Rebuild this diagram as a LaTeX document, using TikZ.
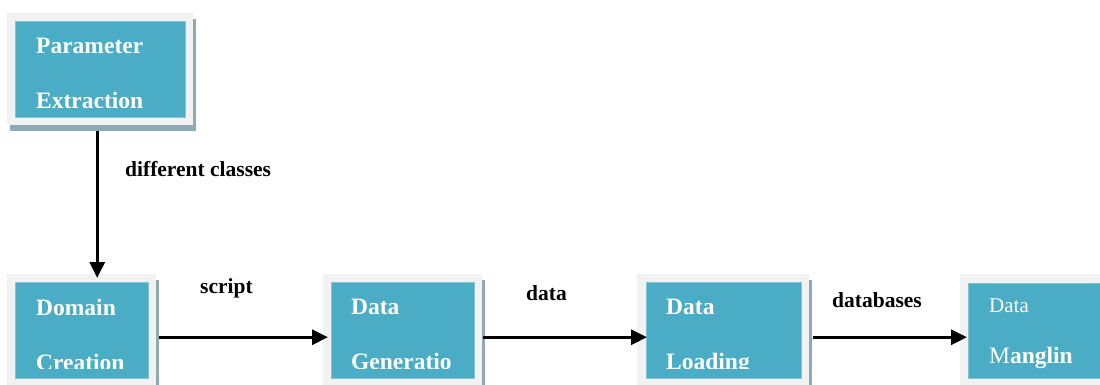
\documentclass[tikz,border=0pt]{standalone}
\usepackage{fontspec}
\setmainfont{Liberation Serif}
\usetikzlibrary{arrows.meta,shadows}
\definecolor{boxteal}{HTML}{4BACC6}
\definecolor{framegray}{HTML}{F2F2F2}
\definecolor{shadowblue}{HTML}{8FAAB5}
\begin{document}
\begin{tikzpicture}[x=1pt,y=-1pt,
  frame/.style={fill=framegray, draw=none, anchor=north west, inner sep=0pt,
    drop shadow={shadow xshift=3pt, shadow yshift=-6pt, fill=shadowblue, opacity=1}},
  panel/.style={fill=boxteal, draw=boxteal!70!white, line width=0.6pt, anchor=north west, inner sep=0pt},
  boxtext/.style={text=white, font=\fontsize{23.5}{23.5}\selectfont\bfseries, anchor=base west, inner sep=0pt},
  flowlabel/.style={text=black, font=\fontsize{21.5}{21.5}\selectfont\bfseries, anchor=base west, inner sep=0pt},
  arr/.style={line width=3pt, -{Triangle[length=16pt,width=15pt]}}]
\clip (0,0) rectangle (1100,385);

% Parameter Extraction
\node[frame, minimum width=186pt, minimum height=112pt] (pe) at (7,13) {};
\node[panel, minimum width=170pt, minimum height=96pt] (pe-in) at (15,21) {};
\begin{scope}
  \clip (pe-in.north west) rectangle ([yshift=10pt]pe-in.south east);
  \node[boxtext] (pe-t1) at (36,54) {Parameter};
  \node[boxtext] (pe-t2) at (36,109) {Extraction};
\end{scope}

% Domain Creation
\node[frame, minimum width=149pt, minimum height=126pt] (dc) at (7,274) {};
\node[panel, minimum width=133pt, minimum height=96pt] (dc-in) at (15,282) {};
\begin{scope}
  \clip (dc-in.north west) rectangle ([yshift=10pt]dc-in.south east);
  \node[boxtext] (dc-t1) at (36,315) {Domain};
  \node[boxtext] (dc-t2) at (36,370) {Creation};
\end{scope}

% Data Generation
\node[frame, minimum width=159pt, minimum height=126pt] (dg) at (323,274) {};
\node[panel, minimum width=143pt, minimum height=96pt] (dg-in) at (331,282) {};
\begin{scope}
  \clip (dg-in.north west) rectangle ([yshift=10pt]dg-in.south east);
  \node[boxtext] (dg-t1) at (351,314) {Data};
  \node[boxtext] (dg-t2) at (351,369) {Generatio};
\end{scope}

% Data Loading
\node[frame, minimum width=172pt, minimum height=126pt] (dl) at (637,274) {};
\node[panel, minimum width=155pt, minimum height=96pt] (dl-in) at (646,282) {};
\begin{scope}
  \clip (dl-in.north west) rectangle ([yshift=10pt]dl-in.south east);
  \node[boxtext] (dl-t1) at (666,314) {Data};
  \node[boxtext] (dl-t2) at (666,369) {Loading};
\end{scope}

% Data Mangling
\node[frame, minimum width=160pt, minimum height=126pt] (dm) at (960,274) {};
\node[panel, minimum width=152pt, minimum height=95pt] (dm-in) at (968,283) {};
\node[boxtext, font=\fontsize{21}{21}\selectfont\mdseries] (dm-t1) at (989,312) {Data};
\node[boxtext] (dm-t2) at (989,363) {{\mdseries M}anglin};

% connectors
\draw[arr] ([xshift=-3pt,yshift=-6pt]pe.south) -- ([xshift=15.5pt,yshift=-4pt]dc.north);
\draw[arr] ([xshift=3pt]dc.east) -- ([xshift=5pt]dg.west);
\draw[arr] ([xshift=1pt]dg.east) -- ([xshift=10pt]dl.west);
\draw[arr] ([xshift=4pt]dl.east) -- ([xshift=7pt]dm.west);

% connector labels
\node[flowlabel] (l-classes) at (125,176) {different classes};
\node[flowlabel] (l-script) at (200,293) {script};
\node[flowlabel] (l-data) at (526,300) {data};
\node[flowlabel] (l-db) at (832,307) {databases};
\end{tikzpicture}
\end{document}
